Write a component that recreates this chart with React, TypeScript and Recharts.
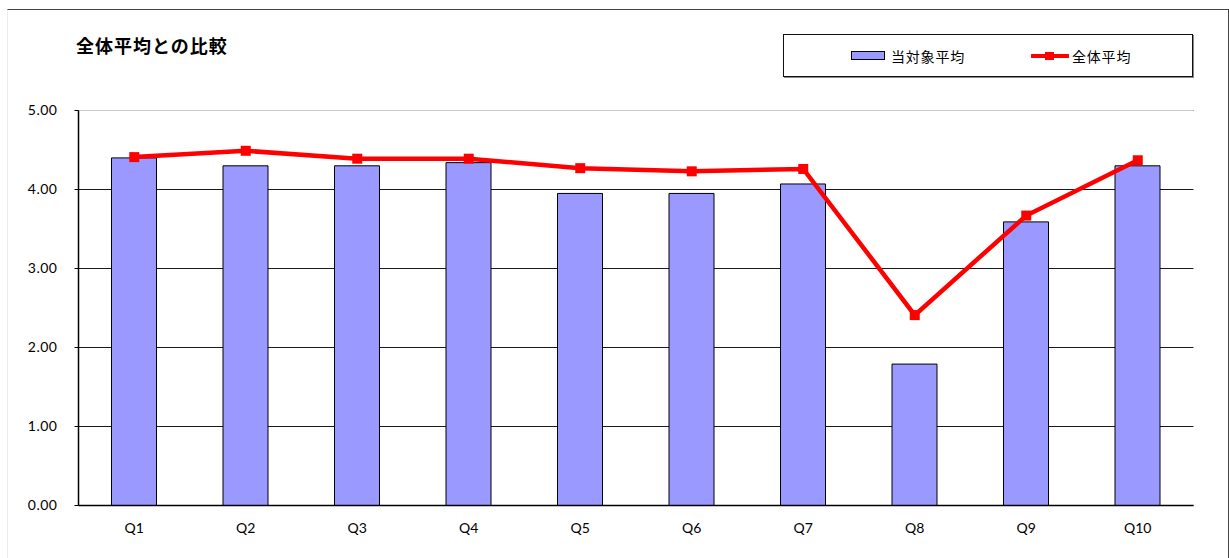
import { Bar, CartesianGrid, ComposedChart, Line, ReferenceLine, XAxis, YAxis } from "recharts";

const categories = ["Q1", "Q2", "Q3", "Q4", "Q5", "Q6", "Q7", "Q8", "Q9", "Q10"];
const targetAvg = [4.4, 4.3, 4.3, 4.34, 3.95, 3.95, 4.07, 1.79, 3.59, 4.3];
const overallAvg = [4.41, 4.49, 4.39, 4.39, 4.27, 4.23, 4.26, 2.41, 3.67, 4.37];
const yTicks = [0, 1, 2, 3, 4, 5];
const edgeTicks = [0, 1, 2, 3, 4, 5, 6, 7, 8, 9, 10];

const TITLE = "全体平均との比較";
const BAR_NAME = "当対象平均";
const LINE_NAME = "全体平均";

const BAR_FILL = "#9999ff";
const LINE_RED = "#ff0000";
const JP_FONT = '"Noto Sans CJK JP", "Noto Sans", sans-serif';
const NUM_FONT = 'Lato, "Noto Sans", sans-serif';

const data = categories.map((q, i) => ({
  q,
  target: targetAvg[i],
  overall: overallAvg[i],
}));

function SquareDot(props: { cx?: number; cy?: number; index?: number }) {
  const { cx, cy, index } = props;
  if (cx == null || cy == null) return null;
  return <rect key={`dot-${index}`} x={cx - 5} y={cy - 5} width={10} height={10} fill={LINE_RED} />;
}

export default function App() {
  return (
    <div
      style={{
        position: "absolute",
        left: 0,
        top: 0,
        width: 1229,
        height: 558,
        background: "#fff",
        overflow: "hidden",
      }}
    >
      {/* outer chart frame */}
      <div
        style={{
          position: "absolute",
          left: 7,
          top: 9,
          width: 1220,
          height: 560,
          borderTop: "1px solid #444",
          borderRight: "1px solid #444",
          borderLeft: "1px solid #ececec",
        }}
      />

      <div
        style={{
          position: "absolute",
          left: 76,
          top: 33,
          fontFamily: JP_FONT,
          fontWeight: 700,
          fontSize: 18,
          letterSpacing: 1,
          color: "#000",
          lineHeight: "24px",
        }}
      >
        {TITLE}
      </div>

      <div
        style={{
          position: "absolute",
          left: 783,
          top: 34,
          width: 410,
          height: 43,
          border: "1px solid #111",
          boxShadow: "1px 1px 0 #888",
          display: "flex",
          alignItems: "center",
          paddingLeft: 67,
          boxSizing: "border-box",
          fontFamily: JP_FONT,
          fontSize: 14,
          letterSpacing: 0.8,
          color: "#000",
        }}
      >
        <span style={{ display: "flex", alignItems: "center" }}>
          <span
            style={{
              display: "inline-block",
              width: 32,
              height: 7,
              background: BAR_FILL,
              border: "1px solid #000",
              marginRight: 6,
            }}
          />
          {BAR_NAME}
        </span>
        <span style={{ display: "flex", alignItems: "center", marginLeft: 66 }}>
          <svg width={38} height={12} style={{ marginRight: 3 }}>
            <line x1={1} y1={6} x2={37} y2={6} stroke={LINE_RED} strokeWidth={4} strokeLinecap="round" />
            <rect x={14} y={2} width={9} height={8} fill={LINE_RED} />
          </svg>
          {LINE_NAME}
        </span>
      </div>

      <div style={{ position: "absolute", left: 0, top: 0 }}>
        <ComposedChart
          width={1229}
          height={558}
          data={data}
          margin={{ top: 110.5, right: 35.5, left: 20.5, bottom: 22.5 }}
        >
          <CartesianGrid vertical={false} stroke="#1a1a1a" strokeWidth={1} />
          <ReferenceLine y={5} stroke="#c8c8c8" strokeWidth={1} />
          <XAxis
            xAxisId="edge"
            type="number"
            domain={[0, 10]}
            ticks={edgeTicks}
            allowDataOverflow
            height={0}
            mirror
            axisLine={false}
            tick={false}
            tickSize={5}
            tickLine={{ stroke: "#000" }}
          />
          <XAxis
            dataKey="q"
            height={30}
            axisLine={{ stroke: "#000", strokeWidth: 1.5 }}
            tickLine={false}
            tickSize={6}
            tickMargin={12}
            tick={{ fill: "#000", fontSize: 14, fontFamily: NUM_FONT }}
            interval={0}
          />
          <YAxis
            domain={[0, 5]}
            ticks={yTicks}
            width={58}
            tickSize={4}
            tickMargin={17}
            axisLine={{ stroke: "#000", strokeWidth: 1.5 }}
            tickLine={{ stroke: "#000" }}
            tick={{ fill: "#000", fontSize: 14, fontFamily: NUM_FONT, letterSpacing: 0.5 }}
            tickFormatter={(v: number) => v.toFixed(2)}
          />
          <Bar
            dataKey="target"
            name={BAR_NAME}
            fill={BAR_FILL}
            stroke="#000"
            strokeWidth={1}
            barSize={45}
            isAnimationActive={false}
          />
          <Line
            type="linear"
            dataKey="overall"
            name={LINE_NAME}
            stroke={LINE_RED}
            strokeWidth={4.5}
            dot={<SquareDot />}
            activeDot={false}
            isAnimationActive={false}
          />
        </ComposedChart>
      </div>
    </div>
  );
}
